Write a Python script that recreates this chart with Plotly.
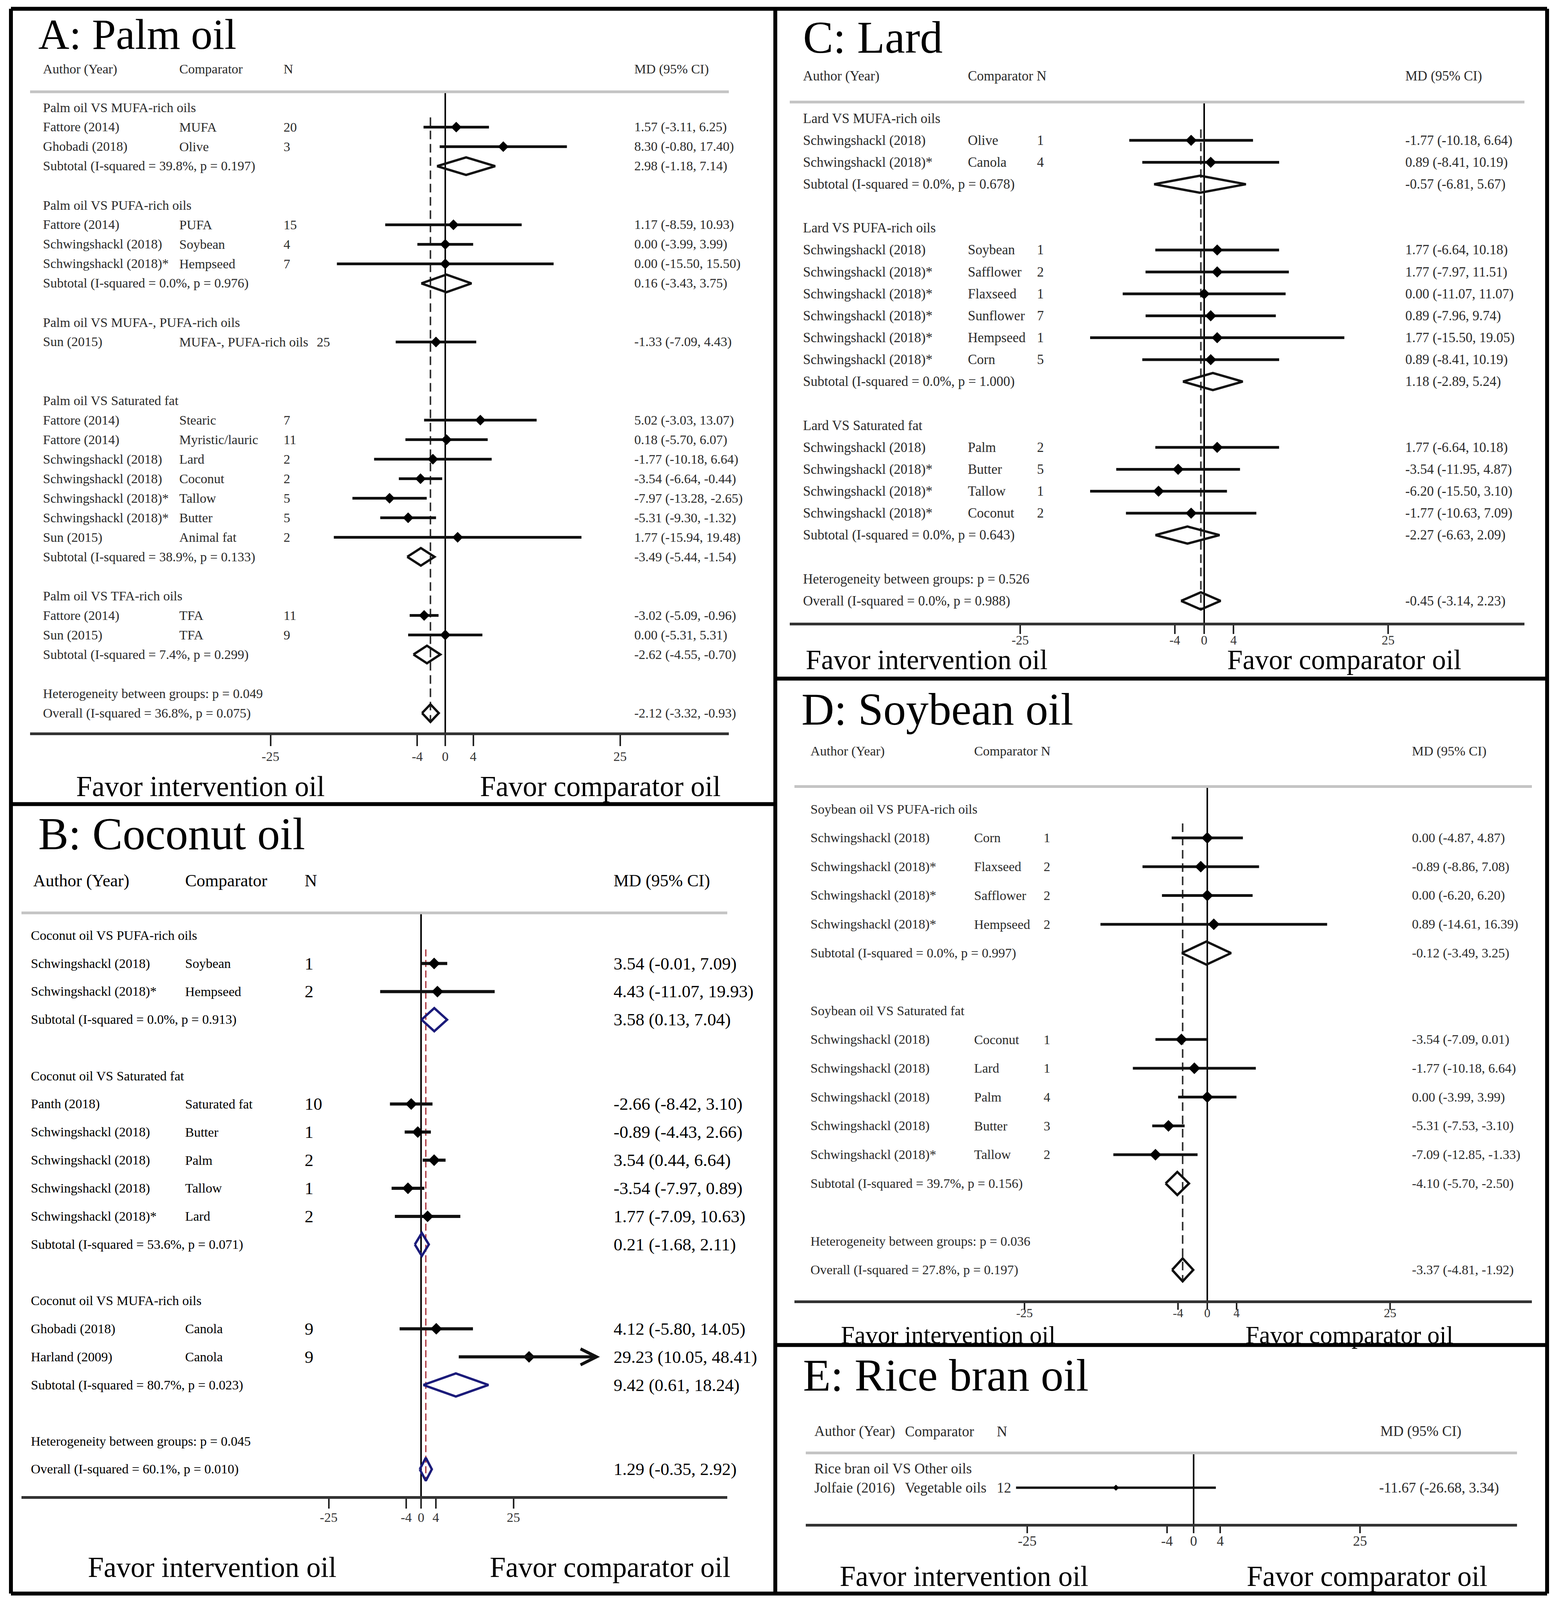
import plotly.graph_objects as go

W, H = 3971, 5472          # reference canvas (pixels) used to place things as fractions
FONT = "Liberation Serif"

# ===================== DATA =====================
TICK_VALS = [-25, -4, 0, 4, 25]
TICK_TEXT = ["-25", "-4", "0", "4", "25"]

# ---- A: Palm oil ----
A_type = ["group", "study", "study", "sub", "blank",
          "group", "study", "study", "study", "sub", "blank",
          "group", "study", "blank", "blank",
          "group", "study", "study", "study", "study", "study", "study", "study", "sub", "blank",
          "group", "study", "study", "sub", "blank",
          "het", "overall"]
A_label = ["Palm oil VS MUFA-rich oils", "Fattore (2014)", "Ghobadi (2018)", "Subtotal (I-squared = 39.8%, p = 0.197)", "",
           "Palm oil VS PUFA-rich oils", "Fattore (2014)", "Schwingshackl (2018)", "Schwingshackl (2018)*", "Subtotal (I-squared = 0.0%, p = 0.976)", "",
           "Palm oil VS MUFA-, PUFA-rich oils", "Sun (2015)", "", "",
           "Palm oil VS Saturated fat", "Fattore (2014)", "Fattore (2014)", "Schwingshackl (2018)", "Schwingshackl (2018)",
           "Schwingshackl (2018)*", "Schwingshackl (2018)*", "Sun (2015)", "Subtotal (I-squared = 38.9%, p = 0.133)", "",
           "Palm oil VS TFA-rich oils", "Fattore (2014)", "Sun (2015)", "Subtotal (I-squared = 7.4%, p = 0.299)", "",
           "Heterogeneity between groups: p = 0.049", "Overall (I-squared = 36.8%, p = 0.075)"]
A_comp = ["", "MUFA", "Olive", "", "",
          "", "PUFA", "Soybean", "Hempseed", "", "",
          "", "MUFA-, PUFA-rich oils", "", "",
          "", "Stearic", "Myristic/lauric", "Lard", "Coconut", "Tallow", "Butter", "Animal fat", "", "",
          "", "TFA", "TFA", "", "",
          "", ""]
A_n = [None, 20, 3, None, None,
       None, 15, 4, 7, None, None,
       None, 25, None, None,
       None, 7, 11, 2, 2, 5, 5, 2, None, None,
       None, 11, 9, None, None,
       None, None]
A_md = [None, 1.57, 8.30, 2.98, None,
        None, 1.17, 0.00, 0.00, 0.16, None,
        None, -1.33, None, None,
        None, 5.02, 0.18, -1.77, -3.54, -7.97, -5.31, 1.77, -3.49, None,
        None, -3.02, 0.00, -2.62, None,
        None, -2.12]
A_lo = [None, -3.11, -0.80, -1.18, None,
        None, -8.59, -3.99, -15.50, -3.43, None,
        None, -7.09, None, None,
        None, -3.03, -5.70, -10.18, -6.64, -13.28, -9.30, -15.94, -5.44, None,
        None, -5.09, -5.31, -4.55, None,
        None, -3.32]
A_hi = [None, 6.25, 17.40, 7.14, None,
        None, 10.93, 3.99, 15.50, 3.75, None,
        None, 4.43, None, None,
        None, 13.07, 6.07, 6.64, -0.44, -2.65, -1.32, 19.48, -1.54, None,
        None, -0.96, 5.31, -0.70, None,
        None, -0.93]

# ---- B: Coconut oil ----
B_type = ["group", "study", "study", "sub", "blank",
          "group", "study", "study", "study", "study", "study", "sub", "blank",
          "group", "study", "study", "sub", "blank",
          "het", "overall"]
B_label = ["Coconut oil VS PUFA-rich oils", "Schwingshackl (2018)", "Schwingshackl (2018)*", "Subtotal (I-squared = 0.0%, p = 0.913)", "",
           "Coconut oil VS Saturated fat", "Panth (2018)", "Schwingshackl (2018)", "Schwingshackl (2018)", "Schwingshackl (2018)",
           "Schwingshackl (2018)*", "Subtotal (I-squared = 53.6%, p = 0.071)", "",
           "Coconut oil VS MUFA-rich oils", "Ghobadi (2018)", "Harland (2009)", "Subtotal (I-squared = 80.7%, p = 0.023)", "",
           "Heterogeneity between groups: p = 0.045", "Overall (I-squared = 60.1%, p = 0.010)"]
B_comp = ["", "Soybean", "Hempseed", "", "",
          "", "Saturated fat", "Butter", "Palm", "Tallow", "Lard", "", "",
          "", "Canola", "Canola", "", "",
          "", ""]
B_n = [None, 1, 2, None, None,
       None, 10, 1, 2, 1, 2, None, None,
       None, 9, 9, None, None,
       None, None]
B_md = [None, 3.54, 4.43, 3.58, None,
        None, -2.66, -0.89, 3.54, -3.54, 1.77, 0.21, None,
        None, 4.12, 29.23, 9.42, None,
        None, 1.29]
B_lo = [None, -0.01, -11.07, 0.13, None,
        None, -8.42, -4.43, 0.44, -7.97, -7.09, -1.68, None,
        None, -5.80, 10.05, 0.61, None,
        None, -0.35]
B_hi = [None, 7.09, 19.93, 7.04, None,
        None, 3.10, 2.66, 6.64, 0.89, 10.63, 2.11, None,
        None, 14.05, 48.41, 18.24, None,
        None, 2.92]

# ---- C: Lard ----
C_type = ["group", "study", "study", "sub", "blank",
          "group", "study", "study", "study", "study", "study", "study", "sub", "blank",
          "group", "study", "study", "study", "study", "sub", "blank",
          "het", "overall"]
C_label = ["Lard VS MUFA-rich oils", "Schwingshackl (2018)", "Schwingshackl (2018)*", "Subtotal (I-squared = 0.0%, p = 0.678)", "",
           "Lard VS PUFA-rich oils", "Schwingshackl (2018)", "Schwingshackl (2018)*", "Schwingshackl (2018)*", "Schwingshackl (2018)*",
           "Schwingshackl (2018)*", "Schwingshackl (2018)*", "Subtotal (I-squared = 0.0%, p = 1.000)", "",
           "Lard VS Saturated fat", "Schwingshackl (2018)", "Schwingshackl (2018)*", "Schwingshackl (2018)*", "Schwingshackl (2018)*",
           "Subtotal (I-squared = 0.0%, p = 0.643)", "",
           "Heterogeneity between groups: p = 0.526", "Overall (I-squared = 0.0%, p = 0.988)"]
C_comp = ["", "Olive", "Canola", "", "",
          "", "Soybean", "Safflower", "Flaxseed", "Sunflower", "Hempseed", "Corn", "", "",
          "", "Palm", "Butter", "Tallow", "Coconut", "", "",
          "", ""]
C_n = [None, 1, 4, None, None,
       None, 1, 2, 1, 7, 1, 5, None, None,
       None, 2, 5, 1, 2, None, None,
       None, None]
C_md = [None, -1.77, 0.89, -0.57, None,
        None, 1.77, 1.77, 0.00, 0.89, 1.77, 0.89, 1.18, None,
        None, 1.77, -3.54, -6.20, -1.77, -2.27, None,
        None, -0.45]
C_lo = [None, -10.18, -8.41, -6.81, None,
        None, -6.64, -7.97, -11.07, -7.96, -15.50, -8.41, -2.89, None,
        None, -6.64, -11.95, -15.50, -10.63, -6.63, None,
        None, -3.14]
C_hi = [None, 6.64, 10.19, 5.67, None,
        None, 10.18, 11.51, 11.07, 9.74, 19.05, 10.19, 5.24, None,
        None, 10.18, 4.87, 3.10, 7.09, 2.09, None,
        None, 2.23]

# ---- D: Soybean oil ----
D_type = ["group", "study", "study", "study", "study", "sub", "blank",
          "group", "study", "study", "study", "study", "study", "sub", "blank",
          "het", "overall"]
D_label = ["Soybean oil VS PUFA-rich oils", "Schwingshackl (2018)", "Schwingshackl (2018)*", "Schwingshackl (2018)*",
           "Schwingshackl (2018)*", "Subtotal (I-squared = 0.0%, p = 0.997)", "",
           "Soybean oil VS Saturated fat", "Schwingshackl (2018)", "Schwingshackl (2018)", "Schwingshackl (2018)",
           "Schwingshackl (2018)", "Schwingshackl (2018)*", "Subtotal (I-squared = 39.7%, p = 0.156)", "",
           "Heterogeneity between groups: p = 0.036", "Overall (I-squared = 27.8%, p = 0.197)"]
D_comp = ["", "Corn", "Flaxseed", "Safflower", "Hempseed", "", "",
          "", "Coconut", "Lard", "Palm", "Butter", "Tallow", "", "",
          "", ""]
D_n = [None, 1, 2, 2, 2, None, None,
       None, 1, 1, 4, 3, 2, None, None,
       None, None]
D_md = [None, 0.00, -0.89, 0.00, 0.89, -0.12, None,
        None, -3.54, -1.77, 0.00, -5.31, -7.09, -4.10, None,
        None, -3.37]
D_lo = [None, -4.87, -8.86, -6.20, -14.61, -3.49, None,
        None, -7.09, -10.18, -3.99, -7.53, -12.85, -5.70, None,
        None, -4.81]
D_hi = [None, 4.87, 7.08, 6.20, 16.39, 3.25, None,
        None, 0.01, 6.64, 3.99, -3.10, -1.33, -2.50, None,
        None, -1.92]

# ---- E: Rice bran oil ----
E_type = ["group", "study"]
E_label = ["Rice bran oil VS Other oils", "Jolfaie (2016)"]
E_comp = ["", "Vegetable oils"]
E_n = [None, 12]
E_md = [None, -11.67]
E_lo = [None, -26.68]
E_hi = [None, 3.34]

# ===================== LAYOUT GEOMETRY (pixels of the 3971x5472 canvas) =====================
GEOM = {
    1: dict(title="A: Palm oil", title_xy=(96, 118), tfs=110,
            header=[("Author (Year)", 108), ("Comparator", 457), ("N", 724), ("MD (95% CI)", 1622)],
            header_y=236, ax_x=108, cx=457, nx=724, mx=1622,
            sepY=314, axisY=2505, axL=77, axR=1866, zero=1140, s=17.9, y0=368, pitch=66.8,
            favor_y=2690, favor_x=(513, 1537), ffs=73, fs=34, hfs=34, nfs=34, mfs=34, col="#2a2a2a",
            mk=21, ciw=7, dh=0.45, dcol="#111111", dash_col="#333333", dash_w=4, dash="22px,12px",
            ticklen=28, tickfs=34, standoff=-3),
    2: dict(title="B: Coconut oil", title_xy=(96, 2852), tfs=116,
            header=[("Author (Year)", 83), ("Comparator", 472), ("N", 778), ("MD (95% CI)", 1569)],
            header_y=3012, ax_x=77, cx=472, nx=778, mx=1569,
            sepY=3122, axisY=5117, axL=55, axR=1862, zero=1078, s=9.46, y0=3199, pitch=96.1,
            favor_y=5360, favor_x=(543, 1562), ffs=73, fs=34, hfs=44, nfs=45, mfs=45, col="#000000",
            mk=23, ciw=8, dh=0.41, dcol="#1b1b7a", dash_col="#a3232b", dash_w=3, dash="18px,9px",
            ticklen=25, tickfs=34, standoff=-7),
    3: dict(title="C: Lard", title_xy=(2054, 128), tfs=116,
            header=[("Author (Year)", 2054), ("Comparator N", 2476), ("MD (95% CI)", 3596)],
            header_y=260, ax_x=2054, cx=2476, nx=2653, mx=3596,
            sepY=349, axisY=2129, axL=2022, axR=3903, zero=3083, s=18.84, y0=405, pitch=75.0,
            favor_y=2256, favor_x=(2372, 3441), ffs=71, fs=35, hfs=35, nfs=35, mfs=35, col="#2a2a2a",
            mk=22, ciw=7, dh=0.39, dcol="#111111", dash_col="#333333", dash_w=4, dash="22px,12px",
            ticklen=22, tickfs=33, standoff=-12),
    4: dict(title="D: Soybean oil", title_xy=(2050, 2426), tfs=116,
            header=[("Author (Year)", 2073), ("Comparator N", 2492), ("MD (95% CI)", 3613)],
            header_y=2569, ax_x=2073, cx=2492, nx=2670, mx=3613,
            sepY=2690, axisY=4448, axL=2034, axR=3922, zero=3091, s=18.72, y0=2767, pitch=98.5,
            favor_y=4566, favor_x=(2427, 3455), ffs=63, fs=34, hfs=34, nfs=34, mfs=34, col="#2a2a2a",
            mk=23, ciw=7, dh=0.40, dcol="#111111", dash_col="#333333", dash_w=4, dash="22px,12px",
            ticklen=17, tickfs=32, standoff=-20),
    5: dict(title="E: Rice bran oil", title_xy=(2054, 4704), tfs=116,
            header=[("Author (Year)", 2083), ("Comparator", 2315), ("N", 2550), ("MD (95% CI)", 3532)],
            header_y=4895, ax_x=2083, cx=2315, nx=2550, mx=3529,
            sepY=4969, axisY=5211, axL=2063, axR=3884, zero=3056, s=17.04, y0=5022, pitch=66.0,
            favor_y=5391, favor_x=(2468, 3500), ffs=73, fs=37, hfs=37, nfs=37, mfs=37, col="#2a2a2a",
            mk=12, ciw=6, dh=0.4, dcol="#111111", dash_col="#333333", dash_w=4, dash="22px,12px",
            ticklen=17, tickfs=36, standoff=-11),
}

PANELS = {
    1: (A_type, A_label, A_comp, A_n, A_md, A_lo, A_hi),
    2: (B_type, B_label, B_comp, B_n, B_md, B_lo, B_hi),
    3: (C_type, C_label, C_comp, C_n, C_md, C_lo, C_hi),
    4: (D_type, D_label, D_comp, D_n, D_md, D_lo, D_hi),
    5: (E_type, E_label, E_comp, E_n, E_md, E_lo, E_hi),
}

fig = go.Figure()
annotations = []
shapes = []


def sfx(i):
    return "" if i == 1 else str(i)


def txt(s, xpx, y, yref, size, color, xanchor="left"):
    annotations.append(dict(text=s, x=xpx / W, xref="paper", y=y, yref=yref,
                            xanchor=xanchor, yanchor="middle", showarrow=False,
                            font=dict(family=FONT, size=size, color=color)))


def fmt(m, l, h):
    return f"{m:.2f} ({l:.2f}, {h:.2f})"


for i, (typ, label, comp, n, md, lo, hi) in PANELS.items():
    g = GEOM[i]
    xa, ya = "x" + sfx(i), "y" + sfx(i)
    fig.layout["xaxis" + sfx(i)] = dict(
        domain=[g["axL"] / W, g["axR"] / W],
        range=[(g["axL"] - g["zero"]) / g["s"], (g["axR"] - g["zero"]) / g["s"]],
        anchor=ya, showline=True, linecolor="#333333", linewidth=7,
        ticks="outside", ticklen=g["ticklen"], tickwidth=4, tickcolor="#222222",
        tickvals=TICK_VALS, ticktext=TICK_TEXT, ticklabelstandoff=g["standoff"],
        tickfont=dict(family=FONT, size=g["tickfs"], color="#333333"),
        zeroline=True, zerolinecolor="#000000", zerolinewidth=4, showgrid=False)
    fig.layout["yaxis" + sfx(i)] = dict(
        domain=[1 - g["axisY"] / H, 1 - g["sepY"] / H],
        range=[(g["axisY"] - g["y0"]) / g["pitch"], (g["sepY"] - g["y0"]) / g["pitch"]],
        anchor=xa, visible=False, showgrid=False, zeroline=False)

    shapes.append(dict(type="line", xref="paper", yref="paper",
                       x0=g["axL"] / W, x1=g["axR"] / W,
                       y0=1 - g["sepY"] / H, y1=1 - g["sepY"] / H,
                       line=dict(color="#c4c4c4", width=7)))

    tx, ty = g["title_xy"]
    txt(g["title"], tx, 1 - ty / H, "paper", g["tfs"], "#000000")
    for h_text, hx in g["header"]:
        txt(h_text, hx, 1 - g["header_y"] / H, "paper", g["hfs"], g["col"])
    txt("Favor intervention oil", g["favor_x"][0], 1 - g["favor_y"] / H, "paper", g["ffs"], "#000000", "center")
    txt("Favor comparator oil", g["favor_x"][1], 1 - g["favor_y"] / H, "paper", g["ffs"], "#000000", "center")

    ci_x, ci_y, pt_x, pt_y, dm_x, dm_y = [], [], [], [], [], []
    for k, t in enumerate(typ):
        if t == "blank":
            continue
        txt(label[k], g["ax_x"], k, ya, g["fs"], g["col"])
        if t == "study":
            txt(comp[k], g["cx"], k, ya, g["fs"], g["col"])
            nx = g["nx"]
            if len(comp[k]) > 15:
                nx = g["cx"] + 0.47 * g["fs"] * len(comp[k]) + 16
            txt(str(n[k]), nx, k, ya, g["nfs"], g["col"])
            pt_x.append(md[k]); pt_y.append(k)
            if hi[k] > 25:
                annotations.append(dict(x=hi[k], y=k, ax=lo[k], ay=k, xref=xa, yref=ya,
                                        axref=xa, ayref=ya, text="", showarrow=True,
                                        arrowhead=5, arrowsize=1, arrowwidth=g["ciw"],
                                        arrowcolor="#111111", standoff=0, startstandoff=0))
            else:
                ci_x += [lo[k], hi[k], None]; ci_y += [k, k, None]
        if md[k] is not None:
            txt(fmt(md[k], lo[k], hi[k]), g["mx"], k, ya, g["mfs"], g["col"])
        if t in ("sub", "overall"):
            h = g["dh"]
            dm_x += [lo[k], md[k], hi[k], md[k], lo[k], None]
            dm_y += [k, k - h, k, k + h, k, None]
        if t == "overall":
            fig.add_trace(go.Scatter(x=[md[k], md[k]], y=[0.5, k + g["dh"]], xaxis=xa, yaxis=ya,
                                     mode="lines", line=dict(color=g["dash_col"], width=g["dash_w"], dash=g["dash"]),
                                     showlegend=False, hoverinfo="skip"))

    fig.add_trace(go.Scatter(x=ci_x, y=ci_y, xaxis=xa, yaxis=ya, mode="lines",
                             line=dict(color="#111111", width=g["ciw"]), showlegend=False, hoverinfo="skip"))
    fig.add_trace(go.Scatter(x=pt_x, y=pt_y, xaxis=xa, yaxis=ya, mode="markers",
                             marker=dict(symbol="diamond", size=g["mk"], color="#000000"),
                             showlegend=False, hoverinfo="skip"))
    if dm_x:
        fig.add_trace(go.Scatter(x=dm_x, y=dm_y, xaxis=xa, yaxis=ya, mode="lines",
                                 line=dict(color=g["dcol"], width=6), showlegend=False, hoverinfo="skip"))

BW = 10
def pline(x0, y0, x1, y1):
    shapes.append(dict(type="line", xref="paper", yref="paper",
                       x0=x0 / W, x1=x1 / W, y0=1 - y0 / H, y1=1 - y1 / H,
                       line=dict(color="#000000", width=BW)))

pline(28, 30, 3961, 30)
pline(28, 5450, 3961, 5450)
pline(28, 30, 28, 5450)
pline(3961, 30, 3961, 5450)
pline(1985, 30, 1985, 5450)
pline(28, 2750, 1985, 2750)
pline(1985, 2321, 3961, 2321)
pline(1985, 4600, 3961, 4600)

fig.update_layout(margin=dict(l=0, r=0, t=0, b=0), autosize=True,
                  paper_bgcolor="white", plot_bgcolor="white",
                  annotations=annotations, shapes=shapes, showlegend=False,
                  font=dict(family=FONT))

# Fill the whole browser viewport (no body margin, no scrollbars)
POST = ("document.body.style.margin='0';"
        "document.documentElement.style.overflow='hidden';document.body.style.overflow='hidden';"
        "var gd=document.getElementById('{plot_id}');"
        "gd.style.width='100vw';gd.style.height='100vh';"
        "Plotly.Plots.resize(gd);")

fig.write_html("out.html", default_width="100vw", default_height="100vh",
               config={"responsive": True, "displayModeBar": False}, post_script=POST)
